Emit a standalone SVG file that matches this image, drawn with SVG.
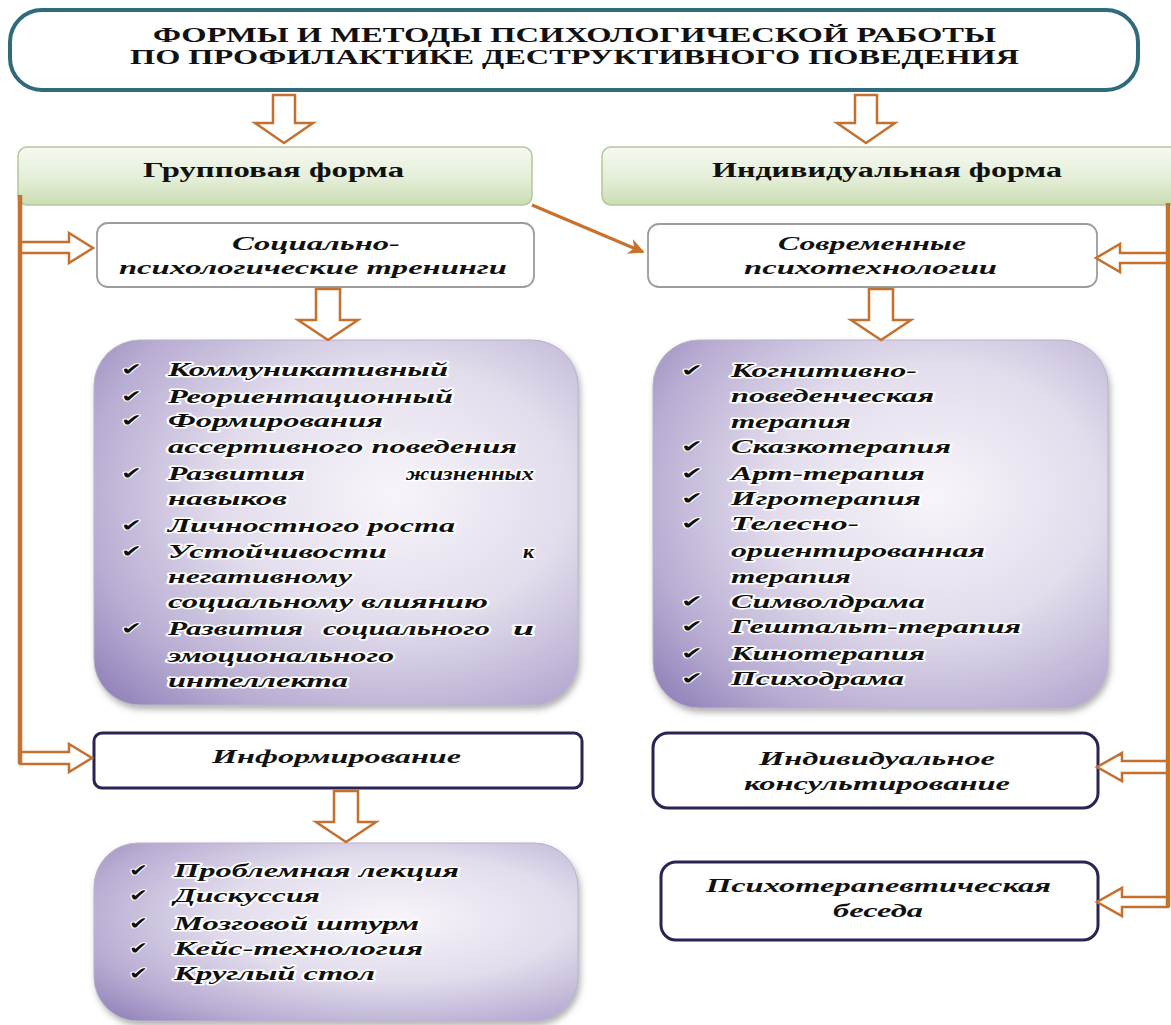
<svg xmlns="http://www.w3.org/2000/svg" width="1171" height="1025" viewBox="0 0 1171 1025">
<style>
.ttl{font-family:"Liberation Serif","Times New Roman",serif;font-weight:bold;font-size:21px;fill:#111111}
.frm{font-family:"Liberation Serif","Times New Roman",serif;font-weight:bold;font-size:20px;fill:#111111}
.lbl{font-family:"Liberation Serif","Times New Roman",serif;font-weight:bold;font-style:italic;font-size:19px;fill:#111111}
.lst{font-family:"Liberation Serif","Times New Roman",serif;font-weight:bold;font-style:italic;font-size:19px;fill:#101010;stroke:#ffffff;stroke-width:3px;paint-order:stroke;stroke-linejoin:round}
.chk{font-family:"DejaVu Sans",sans-serif;font-size:17px;fill:#101010;stroke:#ffffff;stroke-width:2px;paint-order:stroke}
.hollow{fill:#ffffff;stroke:#C4702F;stroke-width:2.5;stroke-linejoin:miter}
.vline{fill:none;stroke:#C8712C;stroke-width:4.5}
.form{fill:url(#green);stroke:#b3c79c;stroke-width:1.5}
.sub{fill:#ffffff;stroke:#9c9c9c;stroke-width:1.8}
.dark{fill:#ffffff;stroke:#2b2452;stroke-width:3}
.purple{fill:url(#lav);stroke:#b9b2c9;stroke-width:1;filter:url(#shadow)}
</style>
<defs>
<linearGradient id="green" x1="0" y1="0" x2="0" y2="1">
<stop offset="0" stop-color="#f6f9f1"/>
<stop offset="0.55" stop-color="#e4eed8"/>
<stop offset="1" stop-color="#c9ddb1"/>
</linearGradient>
<radialGradient id="lav" cx="0.62" cy="0.42" r="0.8">
<stop offset="0" stop-color="#f7f5fa"/>
<stop offset="0.45" stop-color="#e2dcec"/>
<stop offset="0.8" stop-color="#b8acd2"/>
<stop offset="1" stop-color="#9485bb"/>
</radialGradient>
<filter id="shadow" x="-5%" y="-5%" width="112%" height="115%">
<feDropShadow dx="2" dy="4" stdDeviation="3" flood-color="#555" flood-opacity="0.45"/>
</filter>
<marker id="ah" viewBox="0 0 10 10" refX="9" refY="5" markerWidth="5" markerHeight="5" orient="auto" markerUnits="strokeWidth">
<path d="M0,0 L10,5 L0,10 L3,5 z" fill="#C8712C"/>
</marker>
</defs>
<rect width="1171" height="1025" fill="#ffffff"/>

<g id="title">
<rect x="10" y="10" width="1128" height="80" rx="32" fill="#ffffff" stroke="#2f6b7c" stroke-width="4"/>
<text class="ttl" x="153" y="42" textLength="843" lengthAdjust="spacingAndGlyphs">ФОРМЫ И МЕТОДЫ ПСИХОЛОГИЧЕСКОЙ РАБОТЫ</text>
<text class="ttl" x="130" y="64" textLength="889" lengthAdjust="spacingAndGlyphs">ПО ПРОФИЛАКТИКЕ ДЕСТРУКТИВНОГО ПОВЕДЕНИЯ</text>
</g>

<g id="group-form">
<rect class="form" x="18" y="147" width="514" height="58" rx="9"/>
<text class="frm" x="143" y="177" textLength="261" lengthAdjust="spacingAndGlyphs">Групповая форма</text>
</g>

<g id="individual-form">
<rect class="form" x="602" y="147" width="580" height="58" rx="9"/>
<text class="frm" x="712" y="177" textLength="350" lengthAdjust="spacingAndGlyphs">Индивидуальная форма</text>
</g>

<g id="trainings">
<rect class="sub" x="97" y="223" width="437" height="64" rx="11"/>
<text class="lbl" x="232" y="250" textLength="168" lengthAdjust="spacingAndGlyphs">Социально-</text>
<text class="lbl" x="119" y="274" textLength="388" lengthAdjust="spacingAndGlyphs">психологические тренинги</text>
</g>

<g id="psychotech">
<rect class="sub" x="648" y="224" width="449" height="63" rx="11"/>
<text class="lbl" x="778" y="250" textLength="188" lengthAdjust="spacingAndGlyphs">Современные</text>
<text class="lbl" x="744" y="274" textLength="253" lengthAdjust="spacingAndGlyphs">психотехнологии</text>
</g>

<g id="training-list">
<rect class="purple" x="94" y="340" width="484" height="365" rx="46"/>
<text class="chk" x="121" y="375" textLength="21" lengthAdjust="spacingAndGlyphs">✔</text>
<text class="lst" x="168" y="376" textLength="280" lengthAdjust="spacingAndGlyphs">Коммуникативный</text>
<text class="chk" x="121" y="402" textLength="21" lengthAdjust="spacingAndGlyphs">✔</text>
<text class="lst" x="168" y="403" textLength="285" lengthAdjust="spacingAndGlyphs">Реориентационный</text>
<text class="chk" x="121" y="426" textLength="21" lengthAdjust="spacingAndGlyphs">✔</text>
<text class="lst" x="168" y="427" textLength="215" lengthAdjust="spacingAndGlyphs">Формирования</text>
<text class="lst" x="168" y="453" textLength="349" lengthAdjust="spacingAndGlyphs">ассертивного поведения</text>
<text class="chk" x="121" y="479" textLength="21" lengthAdjust="spacingAndGlyphs">✔</text>
<text class="lst" x="168" y="480" textLength="137" lengthAdjust="spacingAndGlyphs">Развития</text>
<text class="lst" x="406" y="480" textLength="128" lengthAdjust="spacingAndGlyphs">жизненных</text>
<text class="lst" x="168" y="505" textLength="119" lengthAdjust="spacingAndGlyphs">навыков</text>
<text class="chk" x="121" y="531" textLength="21" lengthAdjust="spacingAndGlyphs">✔</text>
<text class="lst" x="168" y="532" textLength="287" lengthAdjust="spacingAndGlyphs">Личностного роста</text>
<text class="chk" x="121" y="557" textLength="21" lengthAdjust="spacingAndGlyphs">✔</text>
<text class="lst" x="168" y="558" textLength="219" lengthAdjust="spacingAndGlyphs">Устойчивости</text>
<text class="lst" x="523" y="558" textLength="11" lengthAdjust="spacingAndGlyphs">к</text>
<text class="lst" x="168" y="583" textLength="184" lengthAdjust="spacingAndGlyphs">негативному</text>
<text class="lst" x="168" y="608" textLength="320" lengthAdjust="spacingAndGlyphs">социальному влиянию</text>
<text class="chk" x="121" y="634" textLength="21" lengthAdjust="spacingAndGlyphs">✔</text>
<text class="lst" x="168" y="635" textLength="135" lengthAdjust="spacingAndGlyphs">Развития</text>
<text class="lst" x="323" y="635" textLength="167" lengthAdjust="spacingAndGlyphs">социального</text>
<text class="lst" x="513" y="635" textLength="21" lengthAdjust="spacingAndGlyphs">и</text>
<text class="lst" x="168" y="662" textLength="226" lengthAdjust="spacingAndGlyphs">эмоционального</text>
<text class="lst" x="168" y="687" textLength="180" lengthAdjust="spacingAndGlyphs">интеллекта</text>
</g>

<g id="psychotech-list">
<rect class="purple" x="653" y="340" width="455" height="368" rx="46"/>
<text class="chk" x="681" y="376" textLength="22" lengthAdjust="spacingAndGlyphs">✔</text>
<text class="lst" x="731" y="377" textLength="186" lengthAdjust="spacingAndGlyphs">Когнитивно-</text>
<text class="lst" x="731" y="402" textLength="203" lengthAdjust="spacingAndGlyphs">поведенческая</text>
<text class="lst" x="731" y="428" textLength="120" lengthAdjust="spacingAndGlyphs">терапия</text>
<text class="chk" x="681" y="452" textLength="22" lengthAdjust="spacingAndGlyphs">✔</text>
<text class="lst" x="731" y="453" textLength="220" lengthAdjust="spacingAndGlyphs">Сказкотерапия</text>
<text class="chk" x="681" y="479" textLength="22" lengthAdjust="spacingAndGlyphs">✔</text>
<text class="lst" x="731" y="480" textLength="194" lengthAdjust="spacingAndGlyphs">Арт-терапия</text>
<text class="chk" x="681" y="504" textLength="22" lengthAdjust="spacingAndGlyphs">✔</text>
<text class="lst" x="731" y="505" textLength="190" lengthAdjust="spacingAndGlyphs">Игротерапия</text>
<text class="chk" x="681" y="529" textLength="22" lengthAdjust="spacingAndGlyphs">✔</text>
<text class="lst" x="731" y="530" textLength="128" lengthAdjust="spacingAndGlyphs">Телесно-</text>
<text class="lst" x="731" y="557" textLength="254" lengthAdjust="spacingAndGlyphs">ориентированная</text>
<text class="lst" x="731" y="583" textLength="120" lengthAdjust="spacingAndGlyphs">терапия</text>
<text class="chk" x="681" y="607" textLength="22" lengthAdjust="spacingAndGlyphs">✔</text>
<text class="lst" x="731" y="608" textLength="194" lengthAdjust="spacingAndGlyphs">Символдрама</text>
<text class="chk" x="681" y="632" textLength="22" lengthAdjust="spacingAndGlyphs">✔</text>
<text class="lst" x="731" y="633" textLength="290" lengthAdjust="spacingAndGlyphs">Гештальт-терапия</text>
<text class="chk" x="681" y="659" textLength="22" lengthAdjust="spacingAndGlyphs">✔</text>
<text class="lst" x="731" y="660" textLength="194" lengthAdjust="spacingAndGlyphs">Кинотерапия</text>
<text class="chk" x="681" y="684" textLength="22" lengthAdjust="spacingAndGlyphs">✔</text>
<text class="lst" x="731" y="685" textLength="173" lengthAdjust="spacingAndGlyphs">Психодрама</text>
</g>

<g id="informing">
<rect class="dark" x="94" y="733" width="488" height="55" rx="8"/>
<text class="lbl" x="212" y="763" textLength="249" lengthAdjust="spacingAndGlyphs">Информирование</text>
</g>

<g id="informing-list">
<rect class="purple" x="94" y="843" width="484" height="178" rx="44"/>
<text class="chk" x="129" y="876" textLength="19" lengthAdjust="spacingAndGlyphs">✔</text>
<text class="lst" x="174" y="877" textLength="285" lengthAdjust="spacingAndGlyphs">Проблемная лекция</text>
<text class="chk" x="129" y="901" textLength="19" lengthAdjust="spacingAndGlyphs">✔</text>
<text class="lst" x="174" y="902" textLength="146" lengthAdjust="spacingAndGlyphs">Дискуссия</text>
<text class="chk" x="129" y="929" textLength="19" lengthAdjust="spacingAndGlyphs">✔</text>
<text class="lst" x="174" y="930" textLength="245" lengthAdjust="spacingAndGlyphs">Мозговой штурм</text>
<text class="chk" x="129" y="954" textLength="19" lengthAdjust="spacingAndGlyphs">✔</text>
<text class="lst" x="174" y="955" textLength="249" lengthAdjust="spacingAndGlyphs">Кейс-технология</text>
<text class="chk" x="129" y="979" textLength="19" lengthAdjust="spacingAndGlyphs">✔</text>
<text class="lst" x="174" y="980" textLength="201" lengthAdjust="spacingAndGlyphs">Круглый стол</text>
</g>

<g id="counseling">
<rect class="dark" x="653" y="733" width="445" height="75" rx="15"/>
<text class="lbl" x="759" y="765" textLength="236" lengthAdjust="spacingAndGlyphs">Индивидуальное</text>
<text class="lbl" x="744" y="790" textLength="266" lengthAdjust="spacingAndGlyphs">консультирование</text>
</g>

<g id="therapy-talk">
<rect class="dark" x="661" y="862" width="437" height="78" rx="15"/>
<text class="lbl" x="706" y="892" textLength="345" lengthAdjust="spacingAndGlyphs">Психотерапевтическая</text>
<text class="lbl" x="833" y="917" textLength="90" lengthAdjust="spacingAndGlyphs">беседа</text>
</g>

<g id="connectors">
<polygon class="hollow" points="273,95 295,95 295,123 313,123 284,143 255,123 273,123"/>
<polygon class="hollow" points="855,95 877,95 877,123 895,123 866,143 837,123 855,123"/>
<polygon class="hollow" points="316,289 340,289 340,320 358,320 328,340 298,320 316,320"/>
<polygon class="hollow" points="869,289 893,289 893,320 911,320 881,340 851,320 869,320"/>
<polygon class="hollow" points="334,791 358,791 358,822 376,822 346,842 316,822 334,822"/>
<polygon class="hollow" points="20,242 69,242 69,233 93,248 69,263 69,253 20,253"/>
<polygon class="hollow" points="20,752 69,752 69,744 92,758 69,772 69,764 20,764"/>
<polygon class="hollow" points="1168,253 1120,253 1120,244 1096,258 1120,272 1120,263 1168,263"/>
<polygon class="hollow" points="1168,761 1122,761 1122,753 1097,767 1122,781 1122,773 1168,773"/>
<polygon class="hollow" points="1168,897 1122,897 1122,888 1097,902 1122,916 1122,907 1168,907"/>
<line class="vline" x1="20" y1="195" x2="20" y2="764"/>
<line class="vline" x1="1168" y1="203" x2="1168" y2="907"/>
<line x1="532" y1="205" x2="643" y2="252" stroke="#C8712C" stroke-width="3.2" marker-end="url(#ah)"/>
</g>
</svg>
